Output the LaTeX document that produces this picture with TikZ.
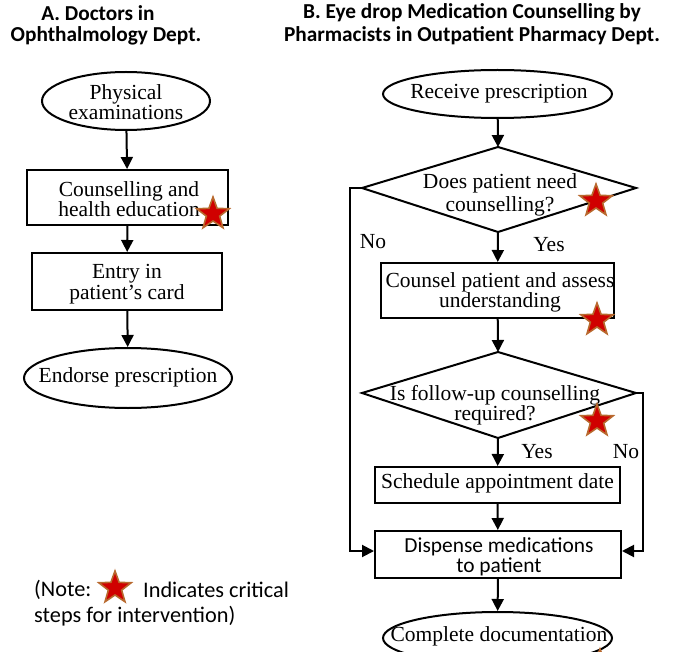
\documentclass[tikz,border=0pt]{standalone}
\usepackage{fontspec}
\setmainfont{Liberation Serif}
\newfontfamily\calfont{Carlito}
\usetikzlibrary{shapes.geometric,arrows.meta}
\definecolor{starfill}{HTML}{D00000}
\definecolor{starline}{HTML}{B8692E}
\tikzset{
  txt/.style={align=center, font=\fontsize{21.5}{19.5}\selectfont, inner sep=0pt},
  oval/.style={line width=2pt, draw, ellipse, inner sep=0pt},
  procbox/.style={line width=2pt, draw, rectangle, inner sep=0pt},
  arr/.style={line width=2pt, -{Triangle[length=12pt,width=12pt]}},
  plain/.style={line width=2pt},
  lbl/.style={font=\fontsize{21.5}{19}\selectfont, inner sep=0pt},
  ttl/.style={font=\calfont\bfseries\fontsize{21.3}{23}\selectfont, align=center, inner sep=0pt},
  notetxt/.style={font=\calfont\fontsize{22.3}{26}\selectfont, inner sep=0pt, anchor=west},
  critstar/.pic={\draw[line width=1.6pt, draw=starline, fill=starfill, line join=miter]
     (-90:17) -- (-54:7) -- (-18:17) -- (18:7) -- (54:17) -- (90:7) -- (126:17) -- (162:7) -- (198:17) -- (234:7) -- cycle;}
}
\begin{document}
\begin{tikzpicture}[x=1pt,y=-1pt]
\useasboundingbox (0,0) rectangle (690,652);
% titles
\node[ttl] (ta1) at (98,13) {A. Doctors in};
\node[ttl] (ta2) at (106,36) {Ophthalmology Dept.};
\node[ttl] (tb) at (472,24) {B. Eye drop Medication Counselling by\\Pharmacists in Outpatient Pharmacy Dept.};
% left column
\node[oval, minimum width=168pt, minimum height=58pt] (phys) at (126,101) {};
\node[txt, font=\fontsize{21.5}{20.5}\selectfont] (physt) at (126,102) {Physical\\examinations};
\node[procbox, minimum width=201pt, minimum height=55pt] (couns) at (127.5,197.5) {};
\node[txt] (counst) at (129,199) {Counselling and\\health education};
\node[procbox, minimum width=190pt, minimum height=57pt] (entry) at (127,281.5) {};
\node[txt] (entryt) at (127,284) {Entry in\\patient's card};
\node[oval, minimum width=208pt, minimum height=60pt] (endorse) at (128,378) {};
\node[txt] (endorset) at (128,377) {Endorse prescription};
\draw[arr] (phys) -- (couns);
\draw[arr] (couns) -- (entry);
\draw[arr] (entry) -- (endorse);
\pic at (213,214) {critstar};
% right column
\node[oval, minimum width=229pt, minimum height=48pt] (recv) at (497.5,94) {};
\node[txt] (recvt) at (499,94) {Receive prescription};
\coordinate (d1t) at (498,147); \coordinate (d1r) at (636,188);
\coordinate (d1b) at (498,232); \coordinate (d1l) at (362,188);
\draw[plain, line join=miter] (d1t) -- (d1r) -- (d1b) -- (d1l) -- cycle;
\node[txt, font=\fontsize{21.5}{22.5}\selectfont] (d1txt) at (500,195) {Does patient need\\counselling?};
\node[procbox, minimum width=233pt, minimum height=55pt] (cpat) at (497.5,290.5) {};
\node[txt, font=\fontsize{21.5}{20}\selectfont] (cpatt) at (500,292) {Counsel patient and assess\\understanding};
\coordinate (d2t) at (498,352); \coordinate (d2r) at (636,393);
\coordinate (d2b) at (498,438); \coordinate (d2l) at (362,393);
\draw[plain, line join=miter] (d2t) -- (d2r) -- (d2b) -- (d2l) -- cycle;
\node[txt] (d2txt) at (495,405) {Is follow-up counselling\\required?};
\node[procbox, minimum width=245pt, minimum height=36pt] (sched) at (497.5,485) {};
\node[txt] (schedt) at (497.5,483) {Schedule appointment date};
\node[procbox, minimum width=246pt, minimum height=47pt] (disp) at (498,554.5) {};
\node[txt, font=\calfont\fontsize{21.4}{20}\selectfont] (dispt) at (499,557) {Dispense medications\\to patient};
\node[oval, minimum width=229pt, minimum height=52pt] (compl) at (497.5,638) {};
\node[txt] (complt) at (499,636) {Complete documentation};
\draw[arr] (recv) -- (d1t);
\draw[arr] (d1b) -- (cpat);
\draw[arr] (cpat) -- (d2t);
\draw[arr] (d2b) -- (sched);
\draw[arr] (sched) -- (disp);
\draw[arr] (disp) -- (compl);
\draw[arr, line join=miter] (d1l) -- ++(-12,0) |- ([yshift=3.5pt]disp.west);
\draw[arr, line join=miter] (d2r) -- ++(7,0) |- ([yshift=3.5pt]disp.east);
\node[lbl] (no1) at (373,242) {No};
\node[lbl] (yes1) at (549,245) {Yes};
\node[lbl] (yes2) at (537,452) {Yes};
\node[lbl] (no2) at (626,452) {No};
\pic at (596,201) {critstar};
\pic at (597,320) {critstar};
\pic at (597,421) {critstar};
\pic at (600,666) {critstar};
% note
\node[notetxt] (note1) at (34,590) {(Note:};
\node[notetxt] (note2) at (143,590) {Indicates critical};
\node[notetxt] (note3) at (34,616) {steps for intervention)};
\pic at (115,588) {critstar};
\end{tikzpicture}
\end{document}
